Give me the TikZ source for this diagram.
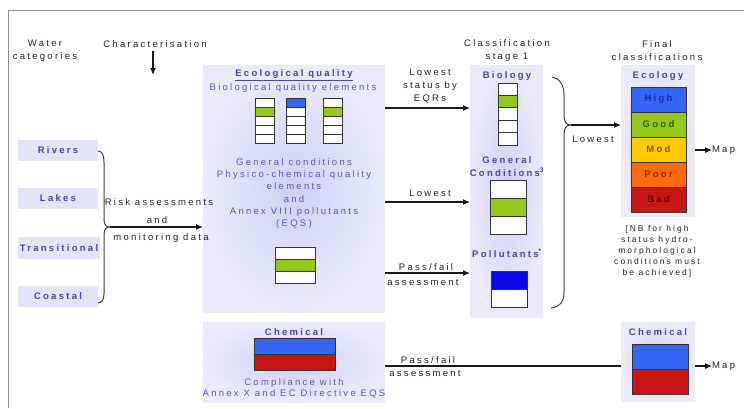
\documentclass[tikz,border=0pt]{standalone}
\usepackage{fontspec}
\setmainfont{Liberation Sans}[LetterSpace=24]
\usetikzlibrary{arrows.meta,calc}
\definecolor{hdc}{HTML}{4646A6}
\definecolor{btc}{HTML}{5858B6}
\definecolor{panin}{HTML}{D0D0F5}
\definecolor{panout}{HTML}{EAEAFA}
\definecolor{wbox}{HTML}{E4E4F8}
\definecolor{gr}{HTML}{94C81A}
\definecolor{bl}{HTML}{3366F5}
\definecolor{pb}{HTML}{0A0AE6}
\definecolor{rd}{HTML}{C81616}
\definecolor{ye}{HTML}{FFC800}
\definecolor{orc}{HTML}{FF6A10}
\definecolor{hil}{HTML}{1E2E9A}
\definecolor{gol}{HTML}{2F5A00}
\definecolor{mol}{HTML}{7A5600}
\definecolor{pol}{HTML}{8E2A00}
\definecolor{bal}{HTML}{640000}
\definecolor{txc}{HTML}{222222}
\definecolor{frc}{HTML}{8C8CA0}
\newcommand\cellbar[5]{\foreach \cc [count=\ii from 0] in {#5}{\draw[cell,fill=\cc] (#1,{#2+\ii*#4}) rectangle ++(#3,#4);}}
\begin{document}
\begin{tikzpicture}[x=1pt,y=-1pt,
  every node/.style={inner sep=0pt, outer sep=0pt, align=center, font=\fontsize{9.5}{13}\selectfont},
  txt/.style={text=txc},
  hd/.style={text=hdc, font=\fontsize{9.5}{13}\selectfont\bfseries},
  bt/.style={text=btc},
  panel/.style={shade, inner color=panin, outer color=panout},
  wcat/.style={fill=wbox, text=hdc, font=\fontsize{9.5}{13}\selectfont\bfseries},
  cell/.style={draw=black!80, line width=0.8pt},
  arr/.style={draw=black!90, line width=1.1pt, -{Latex[length=7pt,width=6pt]}},
  ln/.style={draw=black!90, line width=1.1pt},
  br/.style={draw=black!75, line width=1pt},
  fin/.style={draw=black!80, line width=0.8pt, minimum width=55pt, minimum height=25pt, font=\fontsize{9.5}{13}\selectfont\bfseries}
]
\useasboundingbox (0,0) rectangle (744,408);
\fill[white] (0,0) rectangle (744,408);
% frame
\draw[frc, line width=1pt] (8,408) -- (8,10) -- (744,10);

% panels
\node[panel, minimum width=182pt, minimum height=247pt] (eco) at (294,188.5) {};
\node[panel, minimum width=182pt, minimum height=80pt] (chemL) at (294,362) {};
\node[panel, minimum width=73pt, minimum height=252pt] (st1) at (506.5,191) {};
\node[panel, minimum width=74pt, minimum height=151pt] (finEco) at (658,140.5) {};
\node[panel, minimum width=74pt, minimum height=79pt] (finChem) at (658,361.5) {};

% water categories
\node[wcat, minimum width=80pt, minimum height=21pt] (riv) at (58,150.5) {Rivers};
\node[wcat, minimum width=80pt, minimum height=21pt] (lak) at (58,198.5) {Lakes};
\node[wcat, minimum width=82pt, minimum height=22pt] (tra) at (59,248) {Transitional};
\node[wcat, minimum width=80pt, minimum height=21pt] (coa) at (58,296.5) {Coastal};

% headers
\node[txt] (wc) at (45,50.5) {Water\\categories};
\node[txt] (cha) at (155,44) {Characterisation};
\coordinate (chend) at (153,75);
\draw[arr] ($(cha.south -| chend)+(0,4)$) -- (chend);
\node[txt] (cs1) at (507,50.5) {Classification\\stage 1};
\node[txt] (fcl) at (657,50.5) {Final\\classifications};

% left brace
\coordinate (lt) at (110,227);
\draw[br] (riv.east |- 0,151) .. controls (102,151) and (104,155) .. (104,162) -- (104,219)
  .. controls (104,225) and (106,227) .. (lt)
  .. controls (106,227) and (104,229) .. (104,235) -- (104,294)
  .. controls (104,300) and (101,303) .. (coa.east |- 0,303);
\draw[arr] (lt) -- (eco.west |- lt);
\node[txt] (ra) at (159,202) {Risk assessments};
\node[txt] (rand) at (157,220) {and};
\node[txt] (rmd) at (161,238) {monitoring data};

% ecological quality panel
\node[hd] (ecot) at (294,75) {\underline{Ecological quality}};
\node[bt] (bqe) at (293,88) {Biological quality elements};
\cellbar{255}{98}{19}{9}{white,gr,white,white,white}
\cellbar{286}{98}{19}{9}{bl,white,white,white,white}
\cellbar{323}{98}{19}{9}{white,gr,white,white,white}
\node[bt, font=\fontsize{9.5}{12.2}\selectfont] (gct) at (294,193.5) {General conditions\\Physico-chemical quality\\elements\\and\\Annex VIII pollutants\\(EQS)};
\cellbar{275}{247}{40}{12}{white,gr,white}

% chemical left panel
\node[hd] (chl) at (294,332) {Chemical};
\cellbar{254}{338}{81}{16}{bl,rd}
\node[bt, font=\fontsize{9.5}{11}\selectfont] (cmp) at (294,388) {Compliance with\\Annex X and EC Directive EQS};

% stage 1 column
\node[hd] (bio) at (507,76) {Biology};
\cellbar{498}{83}{19}{12.4}{white,gr,white,white,white}
\node[hd] (gen) at (507,166.5) {General\\Conditions\textsuperscript{3}};
\cellbar{490}{180}{36}{18}{white,gr,white}
\node[hd] (pol) at (507,253) {Pollutants\textsuperscript{*}};
\cellbar{491}{271}{36}{18}{pb,white}

% arrows into stage 1
\coordinate (y1) at (0,108);
\coordinate (y2) at (0,202);
\coordinate (y3) at (0,273);
\draw[arr] (eco.east |- y1) -- (st1.west |- y1);
\draw[arr] (eco.east |- y2) -- (st1.west |- y2);
\draw[arr] (eco.east |- y3) -- (st1.west |- y3);
\node[txt] (l1) at (430,86) {Lowest\\status by\\EQRs};
\node[txt] (l2) at (430,193) {Lowest};
\node[txt] (l3) at (426,267.5) {Pass/fail};
\node[txt] (l4) at (423,282) {assessment};

% right brace
\coordinate (rt) at (571,125);
\draw[br] (552,77) .. controls (559,78) and (564,84) .. (564,95) -- (564,115)
  .. controls (564,122) and (566,125) .. (rt)
  .. controls (566,125) and (564,128) .. (564,135) -- (564,292)
  .. controls (564,302) and (560,307) .. (551,308);
\draw[arr] (rt) -- (finEco.west |- rt);
\node[txt] (l5) at (593,139) {Lowest};

% final ecology
\node[hd] (ecy) at (658,76) {Ecology};
\node[fin, fill=bl, text=hil] (f1) at (658.5,99.5) {High};
\node[fin, fill=gr, text=gol] (f2) at (658.5,124.5) {Good};
\node[fin, fill=ye, text=mol] (f3) at (658.5,149.5) {Mod};
\node[fin, fill=orc, text=pol] (f4) at (658.5,174.5) {Poor};
\node[fin, fill=rd, text=bal] (f5) at (658.5,199.5) {Bad};
\node[txt, anchor=west] (map1) at (712,150) {Map};
\draw[arr] (finEco.east |- map1) -- (map1.west);
\node[txt, font=\fontsize{8.5}{11}\selectfont] (nb) at (657,251) {[NB for high\\status hydro-\\morphological\\conditions must\\be achieved]};

% final chemical
\node[hd] (chr) at (658,332) {Chemical};
\cellbar{632}{344}{56}{25}{bl,rd}
\coordinate (yc) at (0,366);
\draw[ln] (chemL.east |- yc) -- (finChem.west |- yc);
\node[txt] (l6) at (428,360.5) {Pass/fail};
\node[txt] (l7) at (425,373.5) {assessment};
\node[txt, anchor=west] (map2) at (712,366) {Map};
\draw[arr] (finChem.east |- map2) -- (map2.west);
\end{tikzpicture}
\end{document}
